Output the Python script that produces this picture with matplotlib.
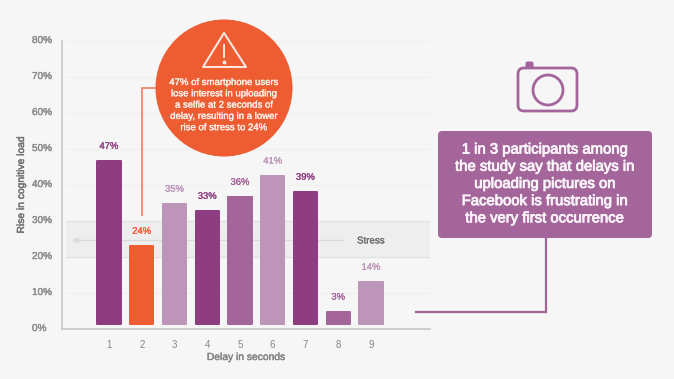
import matplotlib
matplotlib.use("Agg")
import matplotlib.pyplot as plt
import matplotlib.patheffects as pe
from matplotlib.patches import Circle, FancyBboxPatch, Polygon, Rectangle

plt.rcParams['font.family'] = ['Liberation Sans', 'DejaVu Sans']

delays = [1, 2, 3, 4, 5, 6, 7, 8, 9]
bar_values = [46.7, 23.1, 34.8, 32.8, 36.7, 42.6, 38.1, 4.8, 13.1]
bar_labels = ['47%', '24%', '35%', '33%', '36%', '41%', '39%', '3%', '14%']
y_ticks = [0, 10, 20, 30, 40, 50, 60, 70, 80]
y_tick_labels = ['0%', '10%', '20%', '30%', '40%', '50%', '60%', '70%', '80%']
stress_band = (20, 30)
stress_label = 'Stress'
x_title = 'Delay in seconds'
y_title = 'Rise in cognitive load'
circle_lines = ['47% of smartphone users', 'lose interest in uploading',
                'a selfie at 2 seconds of', 'delay, resulting in a lower',
                'rise of stress to 24%']
box_lines = ['1 in 3 participants among', 'the study say that delays in',
             'uploading pictures on', 'Facebook is frustrating in',
             'the very first occurrence']

BG = '#f6f6f6'
DARK = '#8e3d80'
MED = '#a4659b'
LIGHT = '#bc95b9'
ORANGE = '#ee5c32'
colors = [DARK, ORANGE, LIGHT, DARK, MED, LIGHT, DARK, MED, LIGHT]
GREY = '#858585'


def semi(color, w=0.3):
    return [pe.withStroke(linewidth=w, foreground=color)]


W, H = 674, 379
fig = plt.figure(figsize=(W / 100, H / 100), dpi=100, facecolor=BG)

# chart axes: pixel box x 62..430, y 41..329
ax = fig.add_axes([62 / W, 1 - 329 / H, (430 - 62) / W, (329 - 41) / H], facecolor='none')
ax.set_xlim(1 + (62 - 109) / 32.75, 1 + (430 - 109) / 32.75)
ax.set_ylim(0, 80)

for s in ('top', 'right'):
    ax.spines[s].set_visible(False)
for s in ('left', 'bottom'):
    ax.spines[s].set_color('#c6c6c6')
    ax.spines[s].set_linewidth(1.2)

# gridlines and stress band
x0 = ax.get_xlim()[0] + 0.12
x1 = ax.get_xlim()[1]
ax.hlines([v for v in y_ticks[1:]], x0, x1, color='#efefef', lw=0.9, zorder=1)
ax.add_patch(Rectangle((x0, stress_band[0]), x1 - x0, stress_band[1] - stress_band[0],
                       facecolor='#eeeeee', edgecolor='none', zorder=1.2))
ax.hlines(stress_band, x0, x1, color='#e2e2e2', lw=0.9, zorder=1.3)
mid = sum(stress_band) / 2 - 0.4
ax.annotate('', xy=(x0 + 0.1, mid), xytext=(8.27, mid),
            arrowprops=dict(arrowstyle='-|>', color='#dadada', lw=0.9, mutation_scale=9), zorder=1.4)
ax.text(9, mid, stress_label, ha='center', va='center', fontsize=7.0, color='#6f6f6f',
        zorder=1.5, path_effects=semi('#6f6f6f', 0.2))

# bars
base = 1.4
ax.bar(delays, [v - base for v in bar_values], bottom=base, width=0.71, color=colors,
       edgecolor=colors, linewidth=1.44, joinstyle='round', zorder=2)
for d, v, lab, c in zip(delays, bar_values, bar_labels, colors):
    ax.annotate(lab, (d, v), xytext=(0, 10.5), textcoords='offset points', ha='center',
                va='center', fontsize=6.8, color=c, zorder=3, path_effects=semi(c, 0.2))

# ticks
ax.set_xticks(delays)
ax.set_xticklabels([str(d) for d in delays], fontsize=7.0, color=GREY)
ax.tick_params(axis='x', length=0, pad=8)
ax.set_yticks(y_ticks)
ax.set_yticklabels(y_tick_labels, fontsize=7.2, color='#8c8c8c', ha='left',
                   path_effects=semi('#8c8c8c'))
ax.tick_params(axis='y', length=0, pad=21.6)
for t in ax.get_yticklabels():
    t.set_transform(t.get_transform() + matplotlib.transforms.ScaledTranslation(0, 2 / 100, fig.dpi_scale_trans))

# overlay in image pixels for infographic furniture
ov = fig.add_axes([0, 0, 1, 1], facecolor='none')
ov.set_xlim(0, W)
ov.set_ylim(H, 0)
ov.axis('off')

ov.text(246, 357, x_title, ha='center', va='center', fontsize=7.4, color=GREY,
        path_effects=semi(GREY))
ov.text(21, 185, y_title, ha='center', va='center', rotation=90, fontsize=7.4,
        color='#707070', path_effects=semi('#707070'))

# leader + callout circle
ov.plot([156, 142, 142], [88, 88, 215], color='#e98a70', lw=1.3, solid_joinstyle='miter')
ov.add_patch(Circle((224, 88), 68.5, facecolor=ORANGE, edgecolor='none', zorder=3))
ov.add_patch(Polygon([(224, 33), (203, 67), (246, 67)], closed=True, fill=False,
                     edgecolor='#fbe6df', lw=1.5, joinstyle='round', zorder=4))
ov.plot([224, 224], [45, 57], color='#fbe6df', lw=1.4, zorder=4)
ov.plot([224], [61.5], 'o', ms=1.8, color='#fbe6df', zorder=4)
for i, line in enumerate(circle_lines):
    ov.text(224, 82 + i * 11.3, line, ha='center', va='center', fontsize=6.9,
            color='#fdeee8', zorder=5, path_effects=semi('#fdeee8', 0.25))

# camera icon
ov.add_patch(FancyBboxPatch((518, 68), 59, 43, boxstyle='round,pad=0,rounding_size=6',
                            fill=False, edgecolor=MED, lw=2.0, mutation_aspect=1))
ov.add_patch(Circle((548, 90), 15, fill=False, edgecolor=MED, lw=2.0))
ov.add_patch(FancyBboxPatch((526, 62), 7, 6, boxstyle='round,pad=0.5,rounding_size=2',
                            facecolor=MED, edgecolor='none'))

# purple box + connector
ov.plot([416, 546, 546], [312, 312, 238], color=MED, lw=1.6, solid_joinstyle='miter')
ov.add_patch(FancyBboxPatch((441, 134), 208, 101, boxstyle='round,pad=3,rounding_size=4',
                            facecolor=MED, edgecolor='none', zorder=3))
for i, line in enumerate(box_lines):
    ov.text(545, 149.5 + i * 17.2, line, ha='center', va='center', fontsize=10.7,
            color='#fbf3fa', zorder=4, path_effects=semi('#fbf3fa', 0.6))

fig.savefig('out.png', dpi=100, facecolor=BG)
